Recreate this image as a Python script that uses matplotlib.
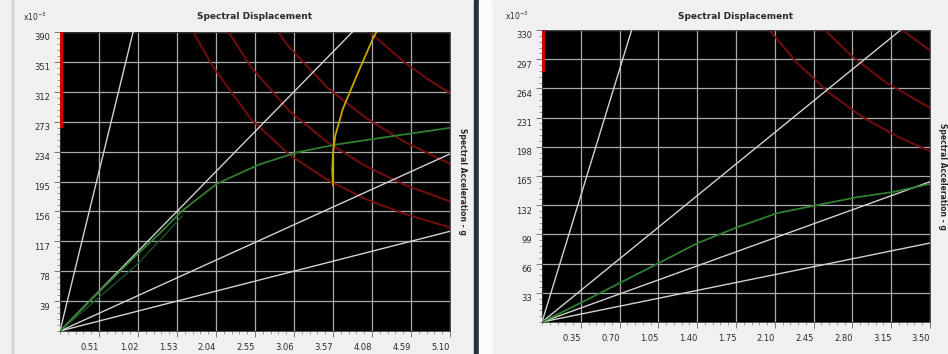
import matplotlib
matplotlib.use("Agg")
import matplotlib.pyplot as plt
from matplotlib.ticker import AutoMinorLocator
from matplotlib.transforms import ScaledTranslation
from matplotlib.patches import Rectangle

# ------ Data: left chart ------
left_xticks = [0.51, 1.02, 1.53, 2.04, 2.55, 3.06, 3.57, 4.08, 4.59, 5.10]
left_yticks = [39, 78, 117, 156, 195, 234, 273, 312, 351, 390]   # x10^-3 g

# constant period lines (Sa per unit Sd)
left_period_slopes = [408, 102, 45.3, 25.5]

left_capacity_sd = [0, 0.5, 1.0, 1.3, 1.6, 2.05, 2.6, 3.1, 3.6, 4.2, 5.1]
left_capacity_sa = [0, 50, 99, 127, 157, 192, 217, 233, 243, 252, 265]

left_capacity2_sd = [0, 1.0, 1.6]
left_capacity2_sa = [0, 86, 150]

left_locus_sd = [4.15, 4.09, 3.88, 3.70, 3.60, 3.57, 3.56, 3.57]
left_locus_sa = [392, 381, 333, 290, 255, 233, 209, 190]

left_demand_sd = [
    [0.0, 0.02, 1.74, 2.0, 2.5, 3.0, 3.5, 4.0, 4.5, 5.1],
    [2.2, 2.5, 3.0, 3.5, 4.0, 4.5, 5.1],
    [2.85, 3.0, 3.5, 4.0, 4.5, 5.1],
    [4.05, 4.5, 4.8, 5.1],
]
left_demand_sa = [
    [268, 390, 390, 345, 276, 230, 197, 172, 153, 135],
    [391, 344, 287, 246, 215, 191, 169],
    [390, 370, 317, 278, 247, 218],
    [390, 351, 329, 310],
]
left_edge_sa = [268, 390]

# ------ Data: right chart ------
right_xticks = [0.35, 0.70, 1.05, 1.40, 1.75, 2.10, 2.45, 2.80, 3.15, 3.50]
right_yticks = [33, 66, 99, 132, 165, 198, 231, 264, 297, 330]

right_period_slopes = [408, 102, 45.3, 25.5]

right_capacity_sd = [0, 0.34, 0.70, 1.06, 1.40, 1.76, 2.12, 2.48, 2.84, 3.17, 3.50]
right_capacity_sa = [0, 21, 44, 67, 89, 107, 123, 132, 141, 147, 156]

right_demand_sd = [
    [2.05, 2.3, 2.6, 2.9, 3.2, 3.5],
    [2.55, 2.8, 3.1, 3.5],
    [3.25, 3.38, 3.5],
]
right_demand_sa = [
    [330, 293, 258, 231, 210, 193],
    [330, 300, 271, 242],
    [330, 318, 307],
]
right_edge_sa = [285, 330]

GRID = "#ababab"
RADIAL = "#d2d2d2"
RED = "#7a0f0f"
GREEN = "#2f7f2f"
YELLOW = "#c9a400"
TXT = "#2a2a2a"


def setup_axes(ax, xticks, yticks, title_pad):
    ax.set_facecolor("black")
    ax.set_xlim(0, xticks[-1])
    ax.set_ylim(0, yticks[-1])
    ax.set_xticks(xticks)
    ax.set_yticks(yticks)
    ax.set_xticklabels([f"{t:.2f}" for t in xticks])
    ax.set_yticklabels([str(t) for t in yticks])
    ax.xaxis.set_minor_locator(AutoMinorLocator(5))
    ax.yaxis.set_minor_locator(AutoMinorLocator(5))
    ax.tick_params(which="major", length=4, width=0.7, color="#777777",
                   labelsize=6, labelcolor=TXT, pad=3)
    ax.tick_params(which="minor", length=2.5, width=0.6, color="#888888")
    ax.grid(True, which="major", color=GRID, lw=0.9)
    ax.set_axisbelow(True)
    for s in ax.spines.values():
        s.set_color("#303030")
        s.set_linewidth(0.6)
    # labels sit a little off their ticks in the original window
    fig = ax.figure
    for lab in ax.get_xticklabels():
        lab.set_transform(lab.get_transform() + ScaledTranslation(-0.09, -0.02, fig.dpi_scale_trans))
    for lab in ax.get_yticklabels():
        lab.set_transform(lab.get_transform() + ScaledTranslation(0, -0.05, fig.dpi_scale_trans))
    ax.set_title("Spectral Displacement", fontsize=6.5, fontweight="bold",
                 color=TXT, pad=title_pad)
    ax.text(-0.065, 1.05, r"x10$^{-3}$", transform=ax.transAxes, fontsize=5.5,
            color=TXT, ha="center", va="center")
    ax.text(1.033, 0.5, "Spectral Acceleration - g", transform=ax.transAxes,
            rotation=270, fontsize=5.5, fontweight="bold", color=TXT,
            ha="center", va="center")


def draw_radials(ax, slopes, xmax):
    for k in slopes:
        ax.plot([0, xmax], [0, k * xmax], color=RADIAL, lw=1.0, zorder=3)


fig = plt.figure(figsize=(9.48, 3.54), dpi=100)
fig.patch.set_facecolor("#f0f0f0")

# window chrome between the two screenshots
fig.add_artist(Rectangle((0.500, 0), 0.0055, 1, transform=fig.transFigure,
                         color="#27313b", zorder=0))
fig.add_artist(Rectangle((0.5055, 0), 0.012, 1, transform=fig.transFigure,
                         color="#fbfbfb", zorder=0))
fig.add_artist(Rectangle((0.0125, 0), 0.0015, 1, transform=fig.transFigure,
                         color="#d0d0d0", zorder=0))

# ------ Left chart ------
ax1 = fig.add_axes([60 / 948, 23 / 354, 390 / 948, 299 / 354])
setup_axes(ax1, left_xticks, left_yticks, 9.5)
draw_radials(ax1, left_period_slopes, left_xticks[-1])
for sd, sa in zip(left_demand_sd, left_demand_sa):
    ax1.plot(sd, sa, color=RED, lw=1.5, alpha=0.9, zorder=2)
ax1.plot([0.012, 0.012], left_edge_sa, color="#d00000", lw=3, zorder=4)
ax1.plot(left_capacity2_sd, left_capacity2_sa, color="#1f5a28", lw=0.9, zorder=4)
ax1.plot(left_capacity_sd, left_capacity_sa, color=GREEN, lw=1.3, zorder=5)
ax1.plot(left_locus_sd, left_locus_sa, color=YELLOW, lw=1.3, zorder=5)

# ------ Right chart ------
ax2 = fig.add_axes([542 / 948, 32 / 354, 388 / 948, 292 / 354])
setup_axes(ax2, right_xticks, right_yticks, 8)
draw_radials(ax2, right_period_slopes, right_xticks[-1])
for sd, sa in zip(right_demand_sd, right_demand_sa):
    ax2.plot(sd, sa, color=RED, lw=1.5, alpha=0.9, zorder=2)
ax2.plot([0.01, 0.01], right_edge_sa, color="#d00000", lw=3, zorder=4)
ax2.plot(right_capacity_sd, right_capacity_sa, color=GREEN, lw=1.3, zorder=5)

fig.savefig("out.png", dpi=100, facecolor=fig.get_facecolor())
